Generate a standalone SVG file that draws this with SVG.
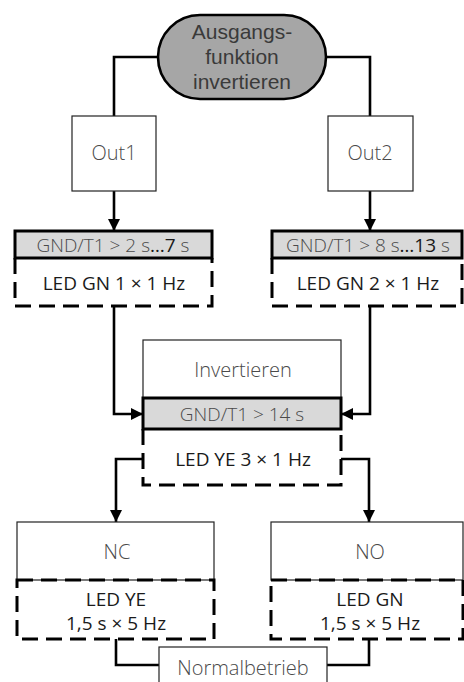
<svg xmlns="http://www.w3.org/2000/svg" width="464" height="682" viewBox="0 0 464 682">
<defs>
<marker id="arr" markerUnits="userSpaceOnUse" markerWidth="12" markerHeight="12" refX="12" refY="6" orient="auto">
<path d="M0,0 L12,6 L0,12 z" fill="#000"/>
</marker>
<style>
text{font-family:"Open Sans","Liberation Sans",sans-serif;font-size:19px;text-anchor:middle}
.lt{fill:#4a4a4a;font-weight:300;font-size:20px}
.dk{fill:#1a1a1a;font-weight:400}
.pt{fill:#3a3a3a;font-family:"Liberation Sans",Arial,sans-serif;font-size:21px}
.thin{fill:#fff;stroke:#222;stroke-width:1.2}
.gnd{fill:#d9d9d9;stroke:#000;stroke-width:3}
.dash{fill:none;stroke:#000;stroke-width:3;stroke-dasharray:16 8}
.wire{fill:none;stroke:#000;stroke-width:2.6}
.arrow{marker-end:url(#arr)}
</style>
</defs>
<rect width="464" height="682" fill="#fff"/>
<g id="connectors">
<path class="wire" d="M158,57 H114 V116"/>
<path class="wire" d="M326,57 H370 V116"/>
<path class="wire arrow" d="M114,191 V231"/>
<path class="wire arrow" d="M370,191 V231"/>
<path class="wire arrow" d="M114,306 V414 H143"/>
<path class="wire arrow" d="M370,306 V414 H341"/>
<path class="wire arrow" d="M143,459 H116 V522"/>
<path class="wire arrow" d="M341,459 H369 V522"/>
<path class="wire" d="M116,639 V665 H159"/>
<path class="wire" d="M369,639 V665 H327"/>
</g>
<g id="start">
<rect x="158" y="15" width="168" height="84" rx="42" fill="#a6a6a6" stroke="#000" stroke-width="2.6"/>
<text class="pt" x="242" y="39">Ausgangs-</text>
<text class="pt" x="242" y="64">funktion</text>
<text class="pt" x="242" y="89">invertieren</text>
</g>
<g id="out1">
<rect class="thin" x="72" y="116" width="84" height="75"/>
<text class="lt" x="114" y="160">Out1</text>
</g>
<g id="out2">
<rect class="thin" x="328" y="116" width="85" height="75"/>
<text class="lt" x="370" y="160">Out2</text>
</g>
<g id="step1">
<rect class="gnd" x="15" y="231" width="197" height="27"/>
<text class="lt" x="113" y="252" style="font-size:19px">GND/T1 &gt; 2 s<tspan class="dk">…7</tspan> s</text>
<path class="dash" d="M15,258 V306 H212 V258"/>
<text class="dk" x="114" y="290">LED GN 1 × 1 Hz</text>
</g>
<g id="step2">
<rect class="gnd" x="272" y="231" width="190" height="27"/>
<text class="lt" x="368" y="252" style="font-size:19px">GND/T1 &gt; 8 s<tspan class="dk">…13</tspan> s</text>
<path class="dash" d="M272,258 V306 H462 V258"/>
<text class="dk" x="368" y="290">LED GN 2 × 1 Hz</text>
</g>
<g id="invert">
<rect class="thin" x="143" y="340" width="198" height="58"/>
<text class="lt" x="243" y="377">Invertieren</text>
<rect class="gnd" x="143" y="398" width="198" height="31"/>
<text class="lt" x="242" y="421" style="font-size:19px">GND/T1 &gt; 14 s</text>
<path class="dash" d="M143,429 V485 H341 V429"/>
<text class="dk" x="243" y="466">LED YE 3 × 1 Hz</text>
</g>
<g id="nc">
<rect class="thin" x="17" y="522" width="197" height="58"/>
<text class="lt" x="117" y="559">NC</text>
<rect class="dash" x="17" y="580" width="197" height="59"/>
<text class="dk" x="116" y="606">LED YE</text>
<text class="dk" x="116" y="630">1,5 s × 5 Hz</text>
</g>
<g id="no">
<rect class="thin" x="271" y="522" width="192" height="58"/>
<text class="lt" x="370" y="559">NO</text>
<rect class="dash" x="271" y="580" width="192" height="59"/>
<text class="dk" x="370" y="606">LED GN</text>
<text class="dk" x="370" y="630">1,5 s × 5 Hz</text>
</g>
<g id="normal">
<rect class="thin" x="159" y="647" width="168" height="40"/>
<text class="lt" x="243" y="675">Normalbetrieb</text>
</g>
</svg>
